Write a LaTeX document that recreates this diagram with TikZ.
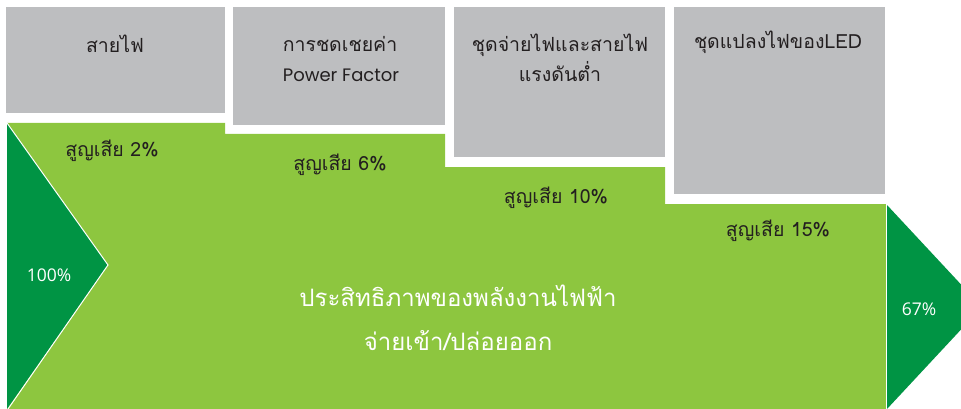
\documentclass[tikz,border=0pt]{standalone}
\usepackage{fontspec}
\setmainfont{Open Sans}
\newfontfamily\thai[Script=Thai]{Loma}
\newfontfamily\geo{Poppins}
\definecolor{boxgray}{HTML}{BDBEC0}
\definecolor{lightgreen}{HTML}{8DC63F}
\definecolor{darkgreen}{HTML}{009444}
\definecolor{txt}{HTML}{231F20}
\begin{document}
\begin{tikzpicture}[x=1pt,y=-1pt,
  graybox/.style={fill=boxgray,draw=none},
  boxlabel/.style={anchor=base,text=txt,font=\thai\fontsize{19.5}{23}\selectfont,inner sep=0pt},
  losslabel/.style={anchor=base,text=txt,font=\thai\fontsize{19.5}{23}\selectfont,inner sep=0pt},
  pct/.style={anchor=base,text=white,font=\fontsize{17.5}{21}\selectfont,inner sep=0pt},
  mainlabel/.style={anchor=base,text=white,font=\thai\fontsize{24}{28}\selectfont,inner sep=0pt}]
\useasboundingbox (0,0) rectangle (961,409);
\clip (0,0) rectangle (961,409);
% gray boxes
\fill[graybox] (6,7) rectangle (225,113);
\fill[graybox] (233,7) rectangle (445,125);
\fill[graybox] (454,7) rectangle (665,157);
\fill[graybox] (674,7) rectangle (885,194);
% green stepped band
\fill[lightgreen] (7,123) -- (225,123) -- (225,134) -- (445,134) -- (445,167)
  -- (665,167) -- (665,204) -- (886,204) -- (886,409) -- (7,409) -- cycle;
% left dark triangle
\fill[darkgreen] (7,123) -- (108,265) -- (7,409) -- cycle;
\draw[white,line width=1pt] (7,123) -- (108,265) -- (8,409);
% right arrow
\fill[darkgreen] (887,205) -- (982,307) -- (887,409) -- cycle;
\draw[white,line width=1pt] (886.5,204) -- (886.5,409);
% box labels
\node[boxlabel] (b1) at (115,53) {สายไฟ};
\node[boxlabel] (b2a) at (340,52) {การชดเชยค่า};
\node[boxlabel,font=\geo\fontsize{18}{21}\selectfont] (b2b) at (341,82) {Power Factor};
\node[boxlabel] (b3a) at (560,52) {ชุดจ่ายไฟและสายไฟ};
\node[boxlabel] (b3b) at (560,82) {แรงดันต่ำ};
\node[boxlabel] (b4) at (778,49) {ชุดแปลงไฟของLED};
% loss labels
\node[losslabel] (l1) at (112,157) {สูญเสีย 2\%};
\node[losslabel] (l2) at (340,171) {สูญเสีย 6\%};
\node[losslabel] (l3) at (556,203) {สูญเสีย 10\%};
\node[losslabel] (l4) at (778,236) {สูญเสีย 15\%};
% percentages
\node[pct] (p100) at (49,281) {100\%};
\node[pct] (p67) at (919,315) {67\%};
% main text
\node[mainlabel] (m1) at (458,306) {ประสิทธิภาพของพลังงานไฟฟ้า};
\node[mainlabel] (m2) at (458,350) {จ่ายเข้า/ปล่อยออก};
\end{tikzpicture}
\end{document}
